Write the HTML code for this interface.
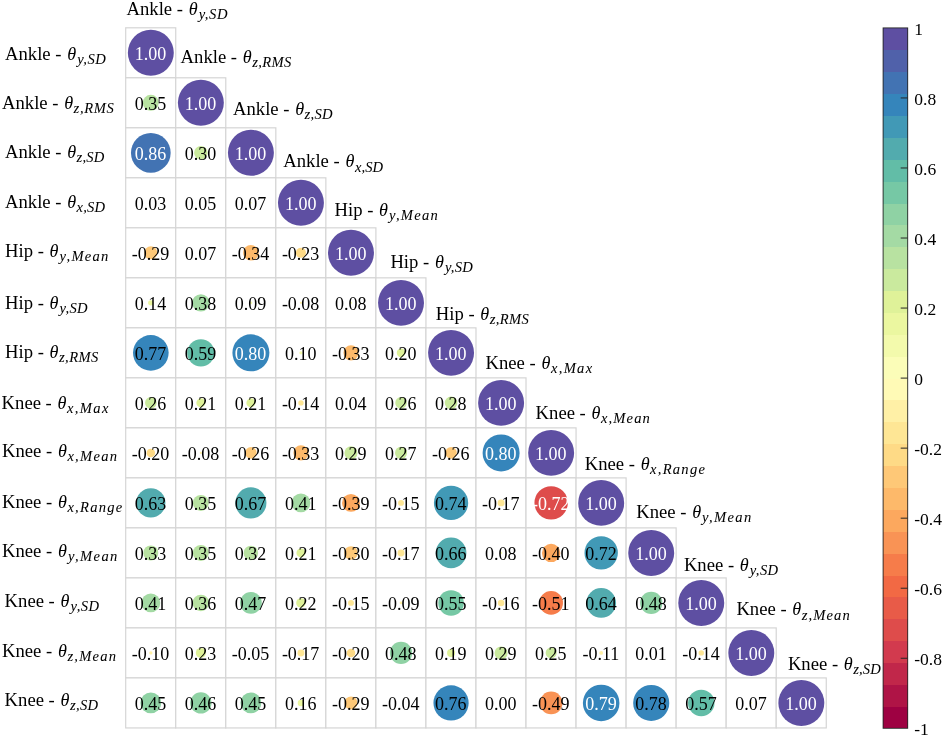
<!DOCTYPE html>
<html lang="en"><head><meta charset="utf-8"><title>Correlation matrix</title>
<style>html,body{margin:0;padding:0;background:#fff}svg{display:block;will-change:transform}text{font-family:"Liberation Serif","DejaVu Serif",serif;fill:#000}.c{font-size:18px;text-anchor:middle}.w{fill:#fff}.l{font-size:18.67px}.th{font-style:italic;font-size:18.2px}.sb{font-style:italic;font-size:14.0px;stroke:#000;stroke-width:.05px}.t{font-size:17.5px}.g rect{fill:#fff;stroke:#d5d5d5;stroke-width:1.2}</style></head><body>
<svg width="944" height="737" viewBox="0 0 944 737">
<rect width="944" height="737" fill="#fff"/>
<g class="g">
<rect x="125.70" y="27.80" width="50.04" height="50.01"/>
<rect x="125.70" y="77.81" width="50.04" height="50.01"/>
<rect x="175.74" y="77.81" width="50.04" height="50.01"/>
<rect x="125.70" y="127.82" width="50.04" height="50.01"/>
<rect x="175.74" y="127.82" width="50.04" height="50.01"/>
<rect x="225.78" y="127.82" width="50.04" height="50.01"/>
<rect x="125.70" y="177.83" width="50.04" height="50.01"/>
<rect x="175.74" y="177.83" width="50.04" height="50.01"/>
<rect x="225.78" y="177.83" width="50.04" height="50.01"/>
<rect x="275.82" y="177.83" width="50.04" height="50.01"/>
<rect x="125.70" y="227.84" width="50.04" height="50.01"/>
<rect x="175.74" y="227.84" width="50.04" height="50.01"/>
<rect x="225.78" y="227.84" width="50.04" height="50.01"/>
<rect x="275.82" y="227.84" width="50.04" height="50.01"/>
<rect x="325.86" y="227.84" width="50.04" height="50.01"/>
<rect x="125.70" y="277.85" width="50.04" height="50.01"/>
<rect x="175.74" y="277.85" width="50.04" height="50.01"/>
<rect x="225.78" y="277.85" width="50.04" height="50.01"/>
<rect x="275.82" y="277.85" width="50.04" height="50.01"/>
<rect x="325.86" y="277.85" width="50.04" height="50.01"/>
<rect x="375.90" y="277.85" width="50.04" height="50.01"/>
<rect x="125.70" y="327.86" width="50.04" height="50.01"/>
<rect x="175.74" y="327.86" width="50.04" height="50.01"/>
<rect x="225.78" y="327.86" width="50.04" height="50.01"/>
<rect x="275.82" y="327.86" width="50.04" height="50.01"/>
<rect x="325.86" y="327.86" width="50.04" height="50.01"/>
<rect x="375.90" y="327.86" width="50.04" height="50.01"/>
<rect x="425.94" y="327.86" width="50.04" height="50.01"/>
<rect x="125.70" y="377.87" width="50.04" height="50.01"/>
<rect x="175.74" y="377.87" width="50.04" height="50.01"/>
<rect x="225.78" y="377.87" width="50.04" height="50.01"/>
<rect x="275.82" y="377.87" width="50.04" height="50.01"/>
<rect x="325.86" y="377.87" width="50.04" height="50.01"/>
<rect x="375.90" y="377.87" width="50.04" height="50.01"/>
<rect x="425.94" y="377.87" width="50.04" height="50.01"/>
<rect x="475.98" y="377.87" width="50.04" height="50.01"/>
<rect x="125.70" y="427.88" width="50.04" height="50.01"/>
<rect x="175.74" y="427.88" width="50.04" height="50.01"/>
<rect x="225.78" y="427.88" width="50.04" height="50.01"/>
<rect x="275.82" y="427.88" width="50.04" height="50.01"/>
<rect x="325.86" y="427.88" width="50.04" height="50.01"/>
<rect x="375.90" y="427.88" width="50.04" height="50.01"/>
<rect x="425.94" y="427.88" width="50.04" height="50.01"/>
<rect x="475.98" y="427.88" width="50.04" height="50.01"/>
<rect x="526.02" y="427.88" width="50.04" height="50.01"/>
<rect x="125.70" y="477.89" width="50.04" height="50.01"/>
<rect x="175.74" y="477.89" width="50.04" height="50.01"/>
<rect x="225.78" y="477.89" width="50.04" height="50.01"/>
<rect x="275.82" y="477.89" width="50.04" height="50.01"/>
<rect x="325.86" y="477.89" width="50.04" height="50.01"/>
<rect x="375.90" y="477.89" width="50.04" height="50.01"/>
<rect x="425.94" y="477.89" width="50.04" height="50.01"/>
<rect x="475.98" y="477.89" width="50.04" height="50.01"/>
<rect x="526.02" y="477.89" width="50.04" height="50.01"/>
<rect x="576.06" y="477.89" width="50.04" height="50.01"/>
<rect x="125.70" y="527.90" width="50.04" height="50.01"/>
<rect x="175.74" y="527.90" width="50.04" height="50.01"/>
<rect x="225.78" y="527.90" width="50.04" height="50.01"/>
<rect x="275.82" y="527.90" width="50.04" height="50.01"/>
<rect x="325.86" y="527.90" width="50.04" height="50.01"/>
<rect x="375.90" y="527.90" width="50.04" height="50.01"/>
<rect x="425.94" y="527.90" width="50.04" height="50.01"/>
<rect x="475.98" y="527.90" width="50.04" height="50.01"/>
<rect x="526.02" y="527.90" width="50.04" height="50.01"/>
<rect x="576.06" y="527.90" width="50.04" height="50.01"/>
<rect x="626.10" y="527.90" width="50.04" height="50.01"/>
<rect x="125.70" y="577.91" width="50.04" height="50.01"/>
<rect x="175.74" y="577.91" width="50.04" height="50.01"/>
<rect x="225.78" y="577.91" width="50.04" height="50.01"/>
<rect x="275.82" y="577.91" width="50.04" height="50.01"/>
<rect x="325.86" y="577.91" width="50.04" height="50.01"/>
<rect x="375.90" y="577.91" width="50.04" height="50.01"/>
<rect x="425.94" y="577.91" width="50.04" height="50.01"/>
<rect x="475.98" y="577.91" width="50.04" height="50.01"/>
<rect x="526.02" y="577.91" width="50.04" height="50.01"/>
<rect x="576.06" y="577.91" width="50.04" height="50.01"/>
<rect x="626.10" y="577.91" width="50.04" height="50.01"/>
<rect x="676.14" y="577.91" width="50.04" height="50.01"/>
<rect x="125.70" y="627.92" width="50.04" height="50.01"/>
<rect x="175.74" y="627.92" width="50.04" height="50.01"/>
<rect x="225.78" y="627.92" width="50.04" height="50.01"/>
<rect x="275.82" y="627.92" width="50.04" height="50.01"/>
<rect x="325.86" y="627.92" width="50.04" height="50.01"/>
<rect x="375.90" y="627.92" width="50.04" height="50.01"/>
<rect x="425.94" y="627.92" width="50.04" height="50.01"/>
<rect x="475.98" y="627.92" width="50.04" height="50.01"/>
<rect x="526.02" y="627.92" width="50.04" height="50.01"/>
<rect x="576.06" y="627.92" width="50.04" height="50.01"/>
<rect x="626.10" y="627.92" width="50.04" height="50.01"/>
<rect x="676.14" y="627.92" width="50.04" height="50.01"/>
<rect x="726.18" y="627.92" width="50.04" height="50.01"/>
<rect x="125.70" y="677.93" width="50.04" height="50.01"/>
<rect x="175.74" y="677.93" width="50.04" height="50.01"/>
<rect x="225.78" y="677.93" width="50.04" height="50.01"/>
<rect x="275.82" y="677.93" width="50.04" height="50.01"/>
<rect x="325.86" y="677.93" width="50.04" height="50.01"/>
<rect x="375.90" y="677.93" width="50.04" height="50.01"/>
<rect x="425.94" y="677.93" width="50.04" height="50.01"/>
<rect x="475.98" y="677.93" width="50.04" height="50.01"/>
<rect x="526.02" y="677.93" width="50.04" height="50.01"/>
<rect x="576.06" y="677.93" width="50.04" height="50.01"/>
<rect x="626.10" y="677.93" width="50.04" height="50.01"/>
<rect x="676.14" y="677.93" width="50.04" height="50.01"/>
<rect x="726.18" y="677.93" width="50.04" height="50.01"/>
<rect x="776.22" y="677.93" width="50.04" height="50.01"/>
</g>
<g>
<circle cx="150.82" cy="52.80" r="22.98" fill="#5e4fa2"/>
<circle cx="150.82" cy="102.81" r="8.00" fill="#b8e2a1"/>
<circle cx="200.86" cy="102.81" r="22.98" fill="#5e4fa2"/>
<circle cx="150.82" cy="152.82" r="19.85" fill="#4273b3"/>
<circle cx="200.86" cy="152.82" r="6.77" fill="#caea9e"/>
<circle cx="250.90" cy="152.82" r="22.98" fill="#5e4fa2"/>
<circle cx="200.86" cy="202.84" r="0.29" fill="#fbfdb8"/>
<circle cx="250.90" cy="202.84" r="0.83" fill="#f3faac"/>
<circle cx="300.94" cy="202.84" r="22.98" fill="#5e4fa2"/>
<circle cx="150.82" cy="252.84" r="6.52" fill="#fec877"/>
<circle cx="200.86" cy="252.84" r="0.83" fill="#f3faac"/>
<circle cx="250.90" cy="252.84" r="7.76" fill="#fdb96a"/>
<circle cx="300.94" cy="252.84" r="5.02" fill="#feda86"/>
<circle cx="350.98" cy="252.84" r="22.98" fill="#5e4fa2"/>
<circle cx="150.82" cy="302.86" r="2.70" fill="#ebf7a0"/>
<circle cx="200.86" cy="302.86" r="8.73" fill="#a4daa4"/>
<circle cx="250.90" cy="302.86" r="1.37" fill="#f3faac"/>
<circle cx="300.94" cy="302.86" r="1.10" fill="#fff0a6"/>
<circle cx="350.98" cy="302.86" r="1.10" fill="#f3faac"/>
<circle cx="401.02" cy="302.86" r="22.98" fill="#5e4fa2"/>
<circle cx="150.82" cy="352.87" r="17.82" fill="#3585bb"/>
<circle cx="200.86" cy="352.87" r="13.71" fill="#62bda7"/>
<circle cx="250.90" cy="352.87" r="18.50" fill="#3585bb"/>
<circle cx="300.94" cy="352.87" r="1.64" fill="#f3faac"/>
<circle cx="350.98" cy="352.87" r="7.51" fill="#fdb96a"/>
<circle cx="401.02" cy="352.87" r="4.25" fill="#dff299"/>
<circle cx="451.06" cy="352.87" r="22.98" fill="#5e4fa2"/>
<circle cx="150.82" cy="402.88" r="5.77" fill="#caea9e"/>
<circle cx="200.86" cy="402.88" r="4.51" fill="#dff299"/>
<circle cx="250.90" cy="402.88" r="4.51" fill="#dff299"/>
<circle cx="300.94" cy="402.88" r="2.70" fill="#fee695"/>
<circle cx="401.02" cy="402.88" r="5.77" fill="#caea9e"/>
<circle cx="451.06" cy="402.88" r="6.27" fill="#caea9e"/>
<circle cx="501.10" cy="402.88" r="22.98" fill="#5e4fa2"/>
<circle cx="150.82" cy="452.88" r="4.25" fill="#feda86"/>
<circle cx="200.86" cy="452.88" r="1.10" fill="#fff0a6"/>
<circle cx="250.90" cy="452.88" r="5.77" fill="#fec877"/>
<circle cx="300.94" cy="452.88" r="7.51" fill="#fdb96a"/>
<circle cx="350.98" cy="452.88" r="6.52" fill="#caea9e"/>
<circle cx="401.02" cy="452.88" r="6.02" fill="#caea9e"/>
<circle cx="451.06" cy="452.88" r="5.77" fill="#fec877"/>
<circle cx="501.10" cy="452.88" r="18.50" fill="#3585bb"/>
<circle cx="551.14" cy="452.88" r="22.98" fill="#5e4fa2"/>
<circle cx="150.82" cy="502.89" r="14.63" fill="#52abae"/>
<circle cx="200.86" cy="502.89" r="8.00" fill="#b8e2a1"/>
<circle cx="250.90" cy="502.89" r="15.55" fill="#52abae"/>
<circle cx="300.94" cy="502.89" r="9.46" fill="#a4daa4"/>
<circle cx="350.98" cy="502.89" r="8.97" fill="#fca85e"/>
<circle cx="401.02" cy="502.89" r="2.96" fill="#fee695"/>
<circle cx="451.06" cy="502.89" r="17.15" fill="#4199b6"/>
<circle cx="501.10" cy="502.89" r="3.48" fill="#fee695"/>
<circle cx="551.14" cy="502.89" r="16.69" fill="#de4c4b"/>
<circle cx="601.18" cy="502.89" r="22.98" fill="#5e4fa2"/>
<circle cx="150.82" cy="552.90" r="7.51" fill="#b8e2a1"/>
<circle cx="200.86" cy="552.90" r="8.00" fill="#b8e2a1"/>
<circle cx="250.90" cy="552.90" r="7.27" fill="#b8e2a1"/>
<circle cx="300.94" cy="552.90" r="4.51" fill="#dff299"/>
<circle cx="350.98" cy="552.90" r="6.77" fill="#fec877"/>
<circle cx="401.02" cy="552.90" r="3.48" fill="#fee695"/>
<circle cx="451.06" cy="552.90" r="15.32" fill="#52abae"/>
<circle cx="501.10" cy="552.90" r="1.10" fill="#f3faac"/>
<circle cx="551.14" cy="552.90" r="9.22" fill="#fca85e"/>
<circle cx="601.18" cy="552.90" r="16.69" fill="#4199b6"/>
<circle cx="651.22" cy="552.90" r="22.98" fill="#5e4fa2"/>
<circle cx="150.82" cy="602.91" r="9.46" fill="#a4daa4"/>
<circle cx="200.86" cy="602.91" r="8.25" fill="#b8e2a1"/>
<circle cx="250.90" cy="602.91" r="10.89" fill="#8fd2a4"/>
<circle cx="300.94" cy="602.91" r="4.76" fill="#dff299"/>
<circle cx="350.98" cy="602.91" r="2.96" fill="#fee695"/>
<circle cx="401.02" cy="602.91" r="1.37" fill="#fff0a6"/>
<circle cx="451.06" cy="602.91" r="12.78" fill="#76c8a5"/>
<circle cx="501.10" cy="602.91" r="3.22" fill="#fee695"/>
<circle cx="551.14" cy="602.91" r="11.84" fill="#f67c4a"/>
<circle cx="601.18" cy="602.91" r="14.86" fill="#52abae"/>
<circle cx="651.22" cy="602.91" r="11.13" fill="#8fd2a4"/>
<circle cx="701.26" cy="602.91" r="22.98" fill="#5e4fa2"/>
<circle cx="150.82" cy="652.92" r="1.64" fill="#fff0a6"/>
<circle cx="200.86" cy="652.92" r="5.02" fill="#dff299"/>
<circle cx="250.90" cy="652.92" r="0.29" fill="#fffab6"/>
<circle cx="300.94" cy="652.92" r="3.48" fill="#fee695"/>
<circle cx="350.98" cy="652.92" r="4.25" fill="#feda86"/>
<circle cx="401.02" cy="652.92" r="11.13" fill="#8fd2a4"/>
<circle cx="451.06" cy="652.92" r="4.00" fill="#dff299"/>
<circle cx="501.10" cy="652.92" r="6.52" fill="#caea9e"/>
<circle cx="551.14" cy="652.92" r="5.52" fill="#caea9e"/>
<circle cx="601.18" cy="652.92" r="1.91" fill="#fff0a6"/>
<circle cx="701.26" cy="652.92" r="2.70" fill="#fee695"/>
<circle cx="751.30" cy="652.92" r="22.98" fill="#5e4fa2"/>
<circle cx="150.82" cy="702.93" r="10.42" fill="#8fd2a4"/>
<circle cx="200.86" cy="702.93" r="10.65" fill="#8fd2a4"/>
<circle cx="250.90" cy="702.93" r="10.42" fill="#8fd2a4"/>
<circle cx="300.94" cy="702.93" r="3.22" fill="#ebf7a0"/>
<circle cx="350.98" cy="702.93" r="6.52" fill="#fec877"/>
<circle cx="451.06" cy="702.93" r="17.60" fill="#3585bb"/>
<circle cx="551.14" cy="702.93" r="11.36" fill="#f99355"/>
<circle cx="601.18" cy="702.93" r="18.28" fill="#3585bb"/>
<circle cx="651.22" cy="702.93" r="18.05" fill="#3585bb"/>
<circle cx="701.26" cy="702.93" r="13.24" fill="#62bda7"/>
<circle cx="751.30" cy="702.93" r="0.83" fill="#f3faac"/>
<circle cx="801.34" cy="702.93" r="22.98" fill="#5e4fa2"/>
</g>
<g>
<text class="c w" x="150.52" y="59.70">1.00</text>
<text class="c" x="150.52" y="109.72">0.35</text>
<text class="c w" x="200.56" y="109.72">1.00</text>
<text class="c w" x="150.52" y="159.72">0.86</text>
<text class="c" x="200.56" y="159.72">0.30</text>
<text class="c w" x="250.60" y="159.72">1.00</text>
<text class="c" x="150.52" y="209.74">0.03</text>
<text class="c" x="200.56" y="209.74">0.05</text>
<text class="c" x="250.60" y="209.74">0.07</text>
<text class="c w" x="300.64" y="209.74">1.00</text>
<text class="c" x="150.52" y="259.75">-0.29</text>
<text class="c" x="200.56" y="259.75">0.07</text>
<text class="c" x="250.60" y="259.75">-0.34</text>
<text class="c" x="300.64" y="259.75">-0.23</text>
<text class="c w" x="350.68" y="259.75">1.00</text>
<text class="c" x="150.52" y="309.75">0.14</text>
<text class="c" x="200.56" y="309.75">0.38</text>
<text class="c" x="250.60" y="309.75">0.09</text>
<text class="c" x="300.64" y="309.75">-0.08</text>
<text class="c" x="350.68" y="309.75">0.08</text>
<text class="c w" x="400.72" y="309.75">1.00</text>
<text class="c" x="150.52" y="359.76">0.77</text>
<text class="c" x="200.56" y="359.76">0.59</text>
<text class="c w" x="250.60" y="359.76">0.80</text>
<text class="c" x="300.64" y="359.76">0.10</text>
<text class="c" x="350.68" y="359.76">-0.33</text>
<text class="c" x="400.72" y="359.76">0.20</text>
<text class="c w" x="450.76" y="359.76">1.00</text>
<text class="c" x="150.52" y="409.77">0.26</text>
<text class="c" x="200.56" y="409.77">0.21</text>
<text class="c" x="250.60" y="409.77">0.21</text>
<text class="c" x="300.64" y="409.77">-0.14</text>
<text class="c" x="350.68" y="409.77">0.04</text>
<text class="c" x="400.72" y="409.77">0.26</text>
<text class="c" x="450.76" y="409.77">0.28</text>
<text class="c w" x="500.80" y="409.77">1.00</text>
<text class="c" x="150.52" y="459.78">-0.20</text>
<text class="c" x="200.56" y="459.78">-0.08</text>
<text class="c" x="250.60" y="459.78">-0.26</text>
<text class="c" x="300.64" y="459.78">-0.33</text>
<text class="c" x="350.68" y="459.78">0.29</text>
<text class="c" x="400.72" y="459.78">0.27</text>
<text class="c" x="450.76" y="459.78">-0.26</text>
<text class="c w" x="500.80" y="459.78">0.80</text>
<text class="c w" x="550.84" y="459.78">1.00</text>
<text class="c" x="150.52" y="509.79">0.63</text>
<text class="c" x="200.56" y="509.79">0.35</text>
<text class="c" x="250.60" y="509.79">0.67</text>
<text class="c" x="300.64" y="509.79">0.41</text>
<text class="c" x="350.68" y="509.79">-0.39</text>
<text class="c" x="400.72" y="509.79">-0.15</text>
<text class="c" x="450.76" y="509.79">0.74</text>
<text class="c" x="500.80" y="509.79">-0.17</text>
<text class="c w" x="550.84" y="509.79">-0.72</text>
<text class="c w" x="600.88" y="509.79">1.00</text>
<text class="c" x="150.52" y="559.80">0.33</text>
<text class="c" x="200.56" y="559.80">0.35</text>
<text class="c" x="250.60" y="559.80">0.32</text>
<text class="c" x="300.64" y="559.80">0.21</text>
<text class="c" x="350.68" y="559.80">-0.30</text>
<text class="c" x="400.72" y="559.80">-0.17</text>
<text class="c" x="450.76" y="559.80">0.66</text>
<text class="c" x="500.80" y="559.80">0.08</text>
<text class="c" x="550.84" y="559.80">-0.40</text>
<text class="c" x="600.88" y="559.80">0.72</text>
<text class="c w" x="650.92" y="559.80">1.00</text>
<text class="c" x="150.52" y="609.81">0.41</text>
<text class="c" x="200.56" y="609.81">0.36</text>
<text class="c" x="250.60" y="609.81">0.47</text>
<text class="c" x="300.64" y="609.81">0.22</text>
<text class="c" x="350.68" y="609.81">-0.15</text>
<text class="c" x="400.72" y="609.81">-0.09</text>
<text class="c" x="450.76" y="609.81">0.55</text>
<text class="c" x="500.80" y="609.81">-0.16</text>
<text class="c" x="550.84" y="609.81">-0.51</text>
<text class="c" x="600.88" y="609.81">0.64</text>
<text class="c" x="650.92" y="609.81">0.48</text>
<text class="c w" x="700.96" y="609.81">1.00</text>
<text class="c" x="150.52" y="659.82">-0.10</text>
<text class="c" x="200.56" y="659.82">0.23</text>
<text class="c" x="250.60" y="659.82">-0.05</text>
<text class="c" x="300.64" y="659.82">-0.17</text>
<text class="c" x="350.68" y="659.82">-0.20</text>
<text class="c" x="400.72" y="659.82">0.48</text>
<text class="c" x="450.76" y="659.82">0.19</text>
<text class="c" x="500.80" y="659.82">0.29</text>
<text class="c" x="550.84" y="659.82">0.25</text>
<text class="c" x="600.88" y="659.82">-0.11</text>
<text class="c" x="650.92" y="659.82">0.01</text>
<text class="c" x="700.96" y="659.82">-0.14</text>
<text class="c w" x="751.00" y="659.82">1.00</text>
<text class="c" x="150.52" y="709.83">0.45</text>
<text class="c" x="200.56" y="709.83">0.46</text>
<text class="c" x="250.60" y="709.83">0.45</text>
<text class="c" x="300.64" y="709.83">0.16</text>
<text class="c" x="350.68" y="709.83">-0.29</text>
<text class="c" x="400.72" y="709.83">-0.04</text>
<text class="c" x="450.76" y="709.83">0.76</text>
<text class="c" x="500.80" y="709.83">0.00</text>
<text class="c" x="550.84" y="709.83">-0.49</text>
<text class="c w" x="600.88" y="709.83">0.79</text>
<text class="c" x="650.92" y="709.83">0.78</text>
<text class="c" x="700.96" y="709.83">0.57</text>
<text class="c" x="751.00" y="709.83">0.07</text>
<text class="c w" x="801.04" y="709.83">1.00</text>
</g>
<g>
<text id="r0" class="l" x="5.00" y="60.10">Ankle - <tspan class="th" x="67.18">θ</tspan></text><text class="sb" transform="translate(77.14 64.20) scale(1.040 1)" textLength="27.46" lengthAdjust="spacing">y,SD</text>
<text id="r1" class="l" x="2.00" y="108.80">Ankle - <tspan class="th" x="64.18">θ</tspan></text><text class="sb" transform="translate(73.62 112.90) scale(1.040 1)" textLength="38.54" lengthAdjust="spacing">z,RMS</text>
<text id="r2" class="l" x="5.00" y="158.10">Ankle - <tspan class="th" x="67.18">θ</tspan></text><text class="sb" transform="translate(76.62 162.20) scale(1.040 1)" textLength="26.71" lengthAdjust="spacing">z,SD</text>
<text id="r3" class="l" x="5.00" y="207.50">Ankle - <tspan class="th" x="67.18">θ</tspan></text><text class="sb" transform="translate(76.62 211.60) scale(1.040 1)" textLength="27.39" lengthAdjust="spacing">x,SD</text>
<text id="r4" class="l" x="5.00" y="256.50">Hip - <tspan class="th" x="49.56">θ</tspan></text><text class="sb" transform="translate(59.52 260.60) scale(1.040 1)" textLength="47.00" lengthAdjust="spacing">y,Mean</text>
<text id="r5" class="l" x="5.00" y="308.80">Hip - <tspan class="th" x="49.56">θ</tspan></text><text class="sb" transform="translate(59.52 312.90) scale(1.040 1)" textLength="26.91" lengthAdjust="spacing">y,SD</text>
<text id="r6" class="l" x="5.00" y="357.80">Hip - <tspan class="th" x="49.56">θ</tspan></text><text class="sb" transform="translate(59.00 361.90) scale(1.040 1)" textLength="37.89" lengthAdjust="spacing">z,RMS</text>
<text id="r7" class="l" x="1.60" y="408.80">Knee - <tspan class="th" x="57.54">θ</tspan></text><text class="sb" transform="translate(66.98 412.90) scale(1.040 1)" textLength="39.82" lengthAdjust="spacing">x,Max</text>
<text id="r8" class="l" x="2.00" y="456.80">Knee - <tspan class="th" x="57.94">θ</tspan></text><text class="sb" transform="translate(67.38 460.90) scale(1.040 1)" textLength="47.71" lengthAdjust="spacing">x,Mean</text>
<text id="r9" class="l" x="2.00" y="507.50">Knee - <tspan class="th" x="57.94">θ</tspan></text><text class="sb" transform="translate(67.38 511.60) scale(1.040 1)" textLength="52.80" lengthAdjust="spacing">x,Range</text>
<text id="r10" class="l" x="2.00" y="556.50">Knee - <tspan class="th" x="57.94">θ</tspan></text><text class="sb" transform="translate(67.90 560.60) scale(1.040 1)" textLength="47.59" lengthAdjust="spacing">y,Mean</text>
<text id="r11" class="l" x="4.60" y="606.80">Knee - <tspan class="th" x="60.54">θ</tspan></text><text class="sb" transform="translate(70.50 610.90) scale(1.040 1)" textLength="27.50" lengthAdjust="spacing">y,SD</text>
<text id="r12" class="l" x="2.00" y="656.50">Knee - <tspan class="th" x="57.94">θ</tspan></text><text class="sb" transform="translate(67.38 660.60) scale(1.040 1)" textLength="46.84" lengthAdjust="spacing">z,Mean</text>
<text id="r13" class="l" x="4.60" y="705.50">Knee - <tspan class="th" x="60.54">θ</tspan></text><text class="sb" transform="translate(69.98 709.60) scale(1.040 1)" textLength="27.03" lengthAdjust="spacing">z,SD</text>
<text id="d0" class="l" x="126.50" y="14.80">Ankle - <tspan class="th" x="188.68">θ</tspan></text><text class="sb" transform="translate(198.64 18.90) scale(1.040 1)" textLength="27.75" lengthAdjust="spacing">y,SD</text>
<text id="d1" class="l" x="180.60" y="62.70">Ankle - <tspan class="th" x="242.78">θ</tspan></text><text class="sb" transform="translate(252.22 66.80) scale(1.040 1)" textLength="37.67" lengthAdjust="spacing">z,RMS</text>
<text id="d2" class="l" x="233.00" y="114.80">Ankle - <tspan class="th" x="295.18">θ</tspan></text><text class="sb" transform="translate(304.62 118.90) scale(1.040 1)" textLength="26.81" lengthAdjust="spacing">z,SD</text>
<text id="d3" class="l" x="283.30" y="167.40">Ankle - <tspan class="th" x="345.48">θ</tspan></text><text class="sb" transform="translate(354.92 171.50) scale(1.040 1)" textLength="27.10" lengthAdjust="spacing">x,SD</text>
<text id="d4" class="l" x="334.50" y="216.00">Hip - <tspan class="th" x="379.06">θ</tspan></text><text class="sb" transform="translate(389.02 220.10) scale(1.040 1)" textLength="46.91" lengthAdjust="spacing">y,Mean</text>
<text id="d5" class="l" x="390.40" y="268.20">Hip - <tspan class="th" x="434.96">θ</tspan></text><text class="sb" transform="translate(444.92 272.30) scale(1.040 1)" textLength="26.71" lengthAdjust="spacing">y,SD</text>
<text id="d6" class="l" x="435.80" y="319.70">Hip - <tspan class="th" x="480.36">θ</tspan></text><text class="sb" transform="translate(489.80 323.80) scale(1.040 1)" textLength="37.41" lengthAdjust="spacing">z,RMS</text>
<text id="d7" class="l" x="485.50" y="369.10">Knee - <tspan class="th" x="541.44">θ</tspan></text><text class="sb" transform="translate(550.88 373.20) scale(1.040 1)" textLength="39.73" lengthAdjust="spacing">x,Max</text>
<text id="d8" class="l" x="535.60" y="418.50">Knee - <tspan class="th" x="591.54">θ</tspan></text><text class="sb" transform="translate(600.98 422.60) scale(1.040 1)" textLength="47.03" lengthAdjust="spacing">x,Mean</text>
<text id="d9" class="l" x="584.70" y="469.70">Knee - <tspan class="th" x="640.64">θ</tspan></text><text class="sb" transform="translate(650.08 473.80) scale(1.040 1)" textLength="52.71" lengthAdjust="spacing">x,Range</text>
<text id="d10" class="l" x="636.20" y="517.90">Knee - <tspan class="th" x="692.14">θ</tspan></text><text class="sb" transform="translate(702.10 522.00) scale(1.040 1)" textLength="47.30" lengthAdjust="spacing">y,Mean</text>
<text id="d11" class="l" x="683.90" y="571.20">Knee - <tspan class="th" x="739.84">θ</tspan></text><text class="sb" transform="translate(749.80 575.30) scale(1.040 1)" textLength="27.21" lengthAdjust="spacing">y,SD</text>
<text id="d12" class="l" x="736.40" y="615.40">Knee - <tspan class="th" x="792.34">θ</tspan></text><text class="sb" transform="translate(801.78 619.50) scale(1.040 1)" textLength="46.17" lengthAdjust="spacing">z,Mean</text>
<text id="d13" class="l" x="787.90" y="669.60">Knee - <tspan class="th" x="843.84">θ</tspan></text><text class="sb" transform="translate(853.28 673.70) scale(1.040 1)" textLength="26.36" lengthAdjust="spacing">z,SD</text>
</g>
<g shape-rendering="crispEdges">
<rect x="883.10" y="706.41" width="24.60" height="21.89" fill="#9e0142"/>
<rect x="883.10" y="684.52" width="24.60" height="22.39" fill="#af1446"/>
<rect x="883.10" y="662.64" width="24.60" height="22.39" fill="#c1274a"/>
<rect x="883.10" y="640.75" width="24.60" height="22.39" fill="#d23a4e"/>
<rect x="883.10" y="618.86" width="24.60" height="22.39" fill="#de4c4b"/>
<rect x="883.10" y="596.97" width="24.60" height="22.39" fill="#e85b48"/>
<rect x="883.10" y="575.09" width="24.60" height="22.39" fill="#f26944"/>
<rect x="883.10" y="553.20" width="24.60" height="22.39" fill="#f67c4a"/>
<rect x="883.10" y="531.31" width="24.60" height="22.39" fill="#f99355"/>
<rect x="883.10" y="509.42" width="24.60" height="22.39" fill="#fca85e"/>
<rect x="883.10" y="487.54" width="24.60" height="22.39" fill="#fdb96a"/>
<rect x="883.10" y="465.65" width="24.60" height="22.39" fill="#fec877"/>
<rect x="883.10" y="443.76" width="24.60" height="22.39" fill="#feda86"/>
<rect x="883.10" y="421.87" width="24.60" height="22.39" fill="#fee695"/>
<rect x="883.10" y="399.99" width="24.60" height="22.39" fill="#fff0a6"/>
<rect x="883.10" y="378.10" width="24.60" height="22.39" fill="#fffab6"/>
<rect x="883.10" y="356.21" width="24.60" height="22.39" fill="#fbfdb8"/>
<rect x="883.10" y="334.32" width="24.60" height="22.39" fill="#f3faac"/>
<rect x="883.10" y="312.44" width="24.60" height="22.39" fill="#ebf7a0"/>
<rect x="883.10" y="290.55" width="24.60" height="22.39" fill="#dff299"/>
<rect x="883.10" y="268.66" width="24.60" height="22.39" fill="#caea9e"/>
<rect x="883.10" y="246.77" width="24.60" height="22.39" fill="#b8e2a1"/>
<rect x="883.10" y="224.89" width="24.60" height="22.39" fill="#a4daa4"/>
<rect x="883.10" y="203.00" width="24.60" height="22.39" fill="#8fd2a4"/>
<rect x="883.10" y="181.11" width="24.60" height="22.39" fill="#76c8a5"/>
<rect x="883.10" y="159.23" width="24.60" height="22.39" fill="#62bda7"/>
<rect x="883.10" y="137.34" width="24.60" height="22.39" fill="#52abae"/>
<rect x="883.10" y="115.45" width="24.60" height="22.39" fill="#4199b6"/>
<rect x="883.10" y="93.56" width="24.60" height="22.39" fill="#3585bb"/>
<rect x="883.10" y="71.67" width="24.60" height="22.39" fill="#4273b3"/>
<rect x="883.10" y="49.79" width="24.60" height="22.39" fill="#5061aa"/>
<rect x="883.10" y="27.90" width="24.60" height="22.39" fill="#5e4fa2"/>
</g>
<rect x="883.10" y="27.90" width="24.60" height="700.40" fill="none" stroke="#262626" stroke-width="0.9"/>
<text class="t" x="914.3" y="34.50">1</text>
<line x1="900.70" x2="907.70" y1="97.94" y2="97.94" stroke="#262626" stroke-width="1"/>
<text class="t" x="914.3" y="104.54">0.8</text>
<line x1="900.70" x2="907.70" y1="167.98" y2="167.98" stroke="#262626" stroke-width="1"/>
<text class="t" x="914.3" y="174.58">0.6</text>
<line x1="900.70" x2="907.70" y1="238.02" y2="238.02" stroke="#262626" stroke-width="1"/>
<text class="t" x="914.3" y="244.62">0.4</text>
<line x1="900.70" x2="907.70" y1="308.06" y2="308.06" stroke="#262626" stroke-width="1"/>
<text class="t" x="914.3" y="314.66">0.2</text>
<line x1="900.70" x2="907.70" y1="378.10" y2="378.10" stroke="#262626" stroke-width="1"/>
<text class="t" x="914.3" y="384.70">0</text>
<line x1="900.70" x2="907.70" y1="448.14" y2="448.14" stroke="#262626" stroke-width="1"/>
<text class="t" x="914.3" y="454.74">-0.2</text>
<line x1="900.70" x2="907.70" y1="518.18" y2="518.18" stroke="#262626" stroke-width="1"/>
<text class="t" x="914.3" y="524.78">-0.4</text>
<line x1="900.70" x2="907.70" y1="588.22" y2="588.22" stroke="#262626" stroke-width="1"/>
<text class="t" x="914.3" y="594.82">-0.6</text>
<line x1="900.70" x2="907.70" y1="658.26" y2="658.26" stroke="#262626" stroke-width="1"/>
<text class="t" x="914.3" y="664.86">-0.8</text>
<text class="t" x="914.3" y="734.90">-1</text>
</svg></body></html>
